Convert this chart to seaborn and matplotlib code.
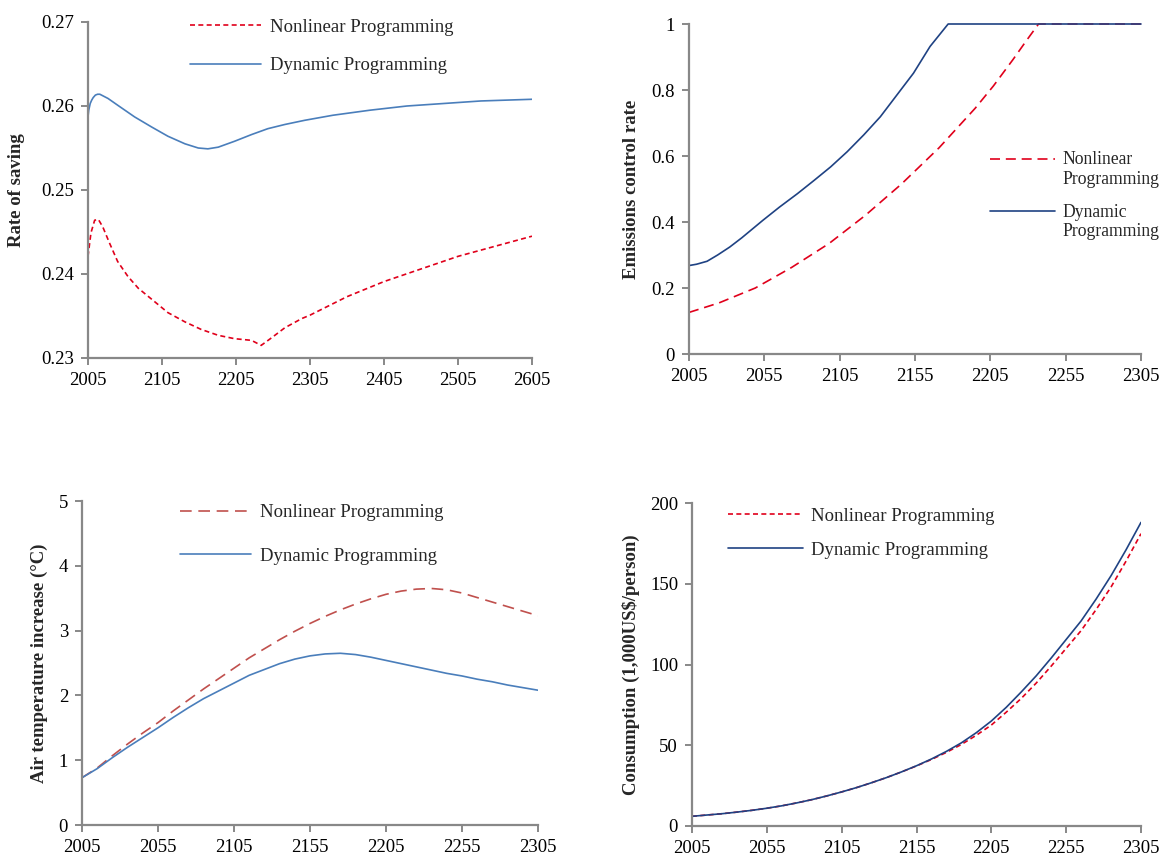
import numpy as np
import pandas as pd
import matplotlib
matplotlib.use("Agg")
import matplotlib.pyplot as plt
import seaborn as sns

# ---- saving rate (top left) ----
sav_dp_year = [2005, 2006, 2008, 2010, 2012, 2015, 2018, 2021, 2032, 2045, 2068, 2091, 2113,
               2136, 2154, 2167, 2181, 2203, 2226, 2248, 2271, 2298, 2336, 2386, 2436, 2486,
               2536, 2605]
sav_dp = [0.2587, 0.2595, 0.2603, 0.2607, 0.2610, 0.2613, 0.2614, 0.2614, 0.2609, 0.2601,
          0.2587, 0.2575, 0.2564, 0.2555, 0.2550, 0.2549, 0.2551, 0.2558, 0.2566, 0.2573,
          0.2578, 0.2583, 0.2589, 0.2595, 0.2600, 0.2603, 0.2606, 0.2608]
sav_nlp_year = [2005, 2009, 2014, 2019, 2025, 2034, 2045, 2059, 2073, 2091, 2113, 2136, 2158,
                2181, 2203, 2226, 2239, 2253, 2271, 2294, 2305, 2355, 2405, 2455, 2505, 2555, 2605]
sav_nlp = [0.2421, 0.2449, 0.2464, 0.2465, 0.2456, 0.2437, 0.2415, 0.2397, 0.2383, 0.2370,
           0.2354, 0.2343, 0.2334, 0.2327, 0.2323, 0.2321, 0.2315, 0.2324, 0.2336, 0.2347,
           0.2351, 0.2373, 0.2391, 0.2406, 0.2421, 0.2433, 0.2445]

# ---- emissions control rate (top right) ----
emi_dp_year = [2005, 2010, 2017, 2024, 2032, 2040, 2054, 2065, 2077, 2088, 2099, 2110, 2121,
               2132, 2143, 2154, 2165, 2177, 2205, 2255, 2305]
emi_dp = [0.268, 0.272, 0.281, 0.300, 0.324, 0.352, 0.405, 0.445, 0.486, 0.526, 0.567,
          0.613, 0.664, 0.719, 0.785, 0.851, 0.932, 1.0, 1.0, 1.0, 1.0]
emi_nlp_year = [2005, 2025, 2049, 2073, 2098, 2122, 2146, 2171, 2195, 2207, 2220, 2229,
                2237, 2255, 2305]
emi_nlp = [0.126, 0.155, 0.200, 0.262, 0.335, 0.420, 0.515, 0.625, 0.745, 0.812, 0.892,
           0.950, 1.0, 1.0, 1.0]

# ---- air temperature increase (bottom left) ----
tmp_year = list(range(2005, 2306, 10))
tmp_nlp = [0.73, 0.88, 1.07, 1.25, 1.42, 1.58, 1.76, 1.93, 2.10, 2.26, 2.42, 2.58, 2.72,
           2.86, 2.99, 3.11, 3.22, 3.32, 3.41, 3.49, 3.56, 3.61, 3.64, 3.65, 3.63, 3.58,
           3.51, 3.44, 3.37, 3.30, 3.23]
tmp_dp = [0.73, 0.87, 1.04, 1.20, 1.35, 1.50, 1.66, 1.81, 1.95, 2.07, 2.19, 2.31, 2.40,
          2.49, 2.56, 2.61, 2.64, 2.65, 2.63, 2.59, 2.54, 2.49, 2.44, 2.39, 2.34, 2.30,
          2.25, 2.21, 2.16, 2.12, 2.08]

# ---- consumption (bottom right) ----
con_year = list(range(2005, 2306, 10))
con_dp = [6.0, 6.8, 7.6, 8.6, 9.7, 11.0, 12.5, 14.3, 16.3, 18.6, 21.1, 23.8, 26.8, 30.0,
          33.5, 37.3, 41.5, 46.2, 51.5, 57.8, 65.0, 73.5, 83.0, 93.0, 104.0, 115.5, 127.0,
          140.5, 155.0, 171.0, 188.0]
con_nlp = [6.0, 6.8, 7.6, 8.6, 9.7, 11.0, 12.5, 14.3, 16.3, 18.6, 21.1, 23.8, 26.8, 30.0,
           33.5, 37.2, 41.2, 45.6, 50.5, 56.2, 62.5, 70.5, 79.0, 88.5, 99.0, 110.0, 121.0,
           134.0, 148.0, 164.0, 181.0]

sns.set_style("ticks")
plt.rcParams['font.family'] = ['Liberation Serif', 'DejaVu Serif']
plt.rcParams['axes.edgecolor'] = '#888888'
plt.rcParams['xtick.color'] = '#888888'
plt.rcParams['ytick.color'] = '#888888'
plt.rcParams['xtick.labelcolor'] = 'black'
plt.rcParams['ytick.labelcolor'] = 'black'

fig = plt.figure(figsize=(11.66, 8.59), dpi=100)
W, H = 1166, 859

def make_ax(l, r, t, b):
    return fig.add_axes([l / W, 1 - b / H, (r - l) / W, (b - t) / H])

ax1 = make_ax(88, 532, 22, 358)
ax2 = make_ax(689, 1141, 24, 354)
ax3 = make_ax(82, 538, 501, 825)
ax4 = make_ax(692, 1141, 503, 826)

red = '#e0001b'
blue = '#4a7ebb'
navy = '#1f4283'

sns.lineplot(x=sav_nlp_year, y=sav_nlp, ax=ax1, color=red, lw=1.2,
             linestyle=(0, (3, 2)), label='Nonlinear Programming')
sns.lineplot(x=sav_dp_year, y=sav_dp, ax=ax1, color=blue, lw=1.2,
             label='Dynamic Programming')

sns.lineplot(x=emi_nlp_year, y=emi_nlp, ax=ax2, color=red, lw=1.2,
             linestyle=(0, (6, 3.5)), label='Nonlinear\nProgramming', clip_on=False)
sns.lineplot(x=emi_dp_year, y=emi_dp, ax=ax2, color=navy, lw=1.2,
             label='Dynamic\nProgramming', clip_on=False)

sns.lineplot(x=tmp_year, y=tmp_nlp, ax=ax3, color='#c0504d', lw=1.2,
             linestyle=(0, (7, 4)), label='Nonlinear Programming')
sns.lineplot(x=tmp_year, y=tmp_dp, ax=ax3, color=blue, lw=1.2,
             label='Dynamic Programming')

sns.lineplot(x=con_year, y=con_nlp, ax=ax4, color=red, lw=1.2,
             linestyle=(0, (3, 2)), label='Nonlinear Programming')
sns.lineplot(x=con_year, y=con_dp, ax=ax4, color=navy, lw=1.2,
             label='Dynamic Programming')

ax1.set_xlim(2005, 2605)
ax1.set_xticks(range(2005, 2606, 100))
ax1.set_ylim(0.23, 0.27)
ax1.set_yticks([0.23, 0.24, 0.25, 0.26, 0.27])
ax1.set_yticklabels(['0.23', '0.24', '0.25', '0.26', '0.27'])

ax2.set_xlim(2005, 2305)
ax2.set_xticks(range(2005, 2306, 50))
ax2.set_ylim(0, 1)
ax2.set_yticks([0, 0.2, 0.4, 0.6, 0.8, 1])
ax2.set_yticklabels(['0', '0.2', '0.4', '0.6', '0.8', '1'])

ax3.set_xlim(2005, 2305)
ax3.set_xticks(range(2005, 2306, 50))
ax3.set_ylim(0, 5)
ax3.set_yticks(range(0, 6))

ax4.set_xlim(2005, 2305)
ax4.set_xticks(range(2005, 2306, 50))
ax4.set_ylim(0, 200)
ax4.set_yticks(range(0, 201, 50))

labels = ['Rate of saving', 'Emissions control rate',
          'Air temperature increase (\u00b0C)', 'Consumption (1,000US$/person)']
label_x = [-0.142, -0.108, -0.075, -0.116]
for ax, lab, lx in zip([ax1, ax2, ax3, ax4], labels, label_x):
    sns.despine(ax=ax)
    ax.spines['left'].set_linewidth(1.6)
    ax.spines['bottom'].set_linewidth(1.6)
    ax.tick_params(length=5, width=1.4, labelsize=13.5, pad=5)
    ax.set_xlabel('')
    ax.set_ylabel(lab, fontsize=13.5, fontweight='bold')
    ax.yaxis.set_label_coords(lx, 0.5)

leg_kw = dict(frameon=False, loc='upper left', borderpad=0, borderaxespad=0,
              handletextpad=0.45)
ax1.legend(bbox_to_anchor=(0.23, 1.01), handlelength=3.8, labelspacing=1.15,
           fontsize=13.5, **leg_kw)
leg2 = ax2.legend(bbox_to_anchor=(0.665, 0.615), handlelength=3.7, labelspacing=0.9,
                  fontsize=12.7, **leg_kw)
# the reference puts each legend line level with the first row of its two-row label
for h in leg2.get_lines():
    h.set_ydata(np.asarray(h.get_ydata()) + 8)
ax3.legend(bbox_to_anchor=(0.215, 0.99), handlelength=3.8, labelspacing=1.4,
           fontsize=13.5, **leg_kw)
ax4.legend(bbox_to_anchor=(0.08, 0.985), handlelength=4.0, labelspacing=0.9,
           fontsize=13.5, **leg_kw)

fig.savefig('out.png', dpi=100)
